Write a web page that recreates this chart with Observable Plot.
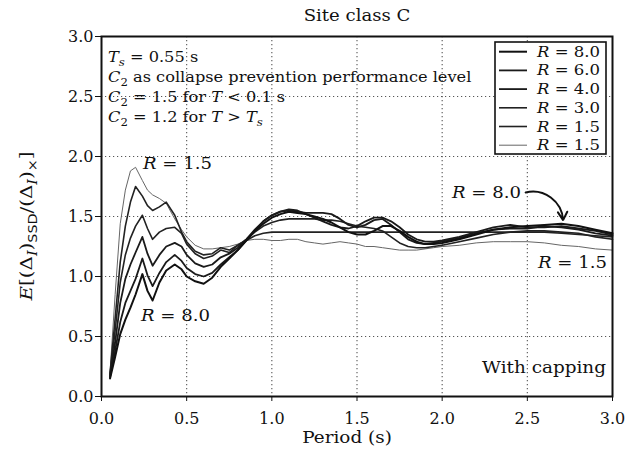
<!DOCTYPE html>
<html><head><meta charset="utf-8">
<script src="https://cdn.jsdelivr.net/npm/d3@7"></script>
<script src="https://cdn.jsdelivr.net/npm/@observablehq/plot@0.6"></script>
<style>body{margin:0;background:#fff} svg{display:block}</style>
</head><body><div id="chart"></div>
<script>
// Period grid (s)
const periods = [0.05,0.08,0.11,0.14,0.17,0.20,0.24,0.27,0.30,0.34,0.38,0.43,0.47,0.50,0.55,0.60,0.65,0.70,0.75,0.80,0.85,0.90,0.95,1.00,1.05,1.10,1.15,1.20,1.25,1.30,1.35,1.40,1.45,1.50,1.55,1.60,1.65,1.70,1.75,1.80,1.85,1.90,1.95,2.00,2.10,2.20,2.30,2.40,2.50,2.60,2.70,2.80,2.90,3.00];

const r8 = [0.15,0.33,0.52,0.64,0.74,0.85,1.02,0.88,0.80,0.95,1.05,1.10,1.06,1.00,0.96,0.94,0.99,1.08,1.15,1.22,1.30,1.38,1.44,1.49,1.52,1.54,1.53,1.52,1.50,1.48,1.45,1.41,1.37,1.35,1.35,1.38,1.42,1.42,1.38,1.33,1.29,1.27,1.27,1.28,1.31,1.35,1.39,1.41,1.42,1.43,1.44,1.42,1.39,1.36];
const r6 = [0.16,0.38,0.62,0.78,0.88,0.98,1.15,1.01,0.92,1.03,1.12,1.18,1.13,1.07,1.02,1.00,1.03,1.10,1.16,1.22,1.30,1.38,1.46,1.51,1.54,1.56,1.55,1.52,1.49,1.46,1.43,1.41,1.40,1.42,1.46,1.49,1.49,1.46,1.41,1.35,1.31,1.29,1.29,1.30,1.33,1.37,1.41,1.43,1.41,1.41,1.42,1.40,1.38,1.35];
const r4 = [0.17,0.45,0.78,0.98,1.10,1.20,1.33,1.19,1.09,1.18,1.25,1.28,1.25,1.18,1.11,1.08,1.10,1.16,1.19,1.24,1.31,1.39,1.46,1.51,1.54,1.55,1.54,1.53,1.53,1.53,1.52,1.48,1.43,1.41,1.43,1.47,1.48,1.43,1.37,1.31,1.28,1.27,1.28,1.29,1.32,1.36,1.39,1.40,1.40,1.42,1.41,1.39,1.36,1.34];
const r3 = [0.18,0.55,0.95,1.18,1.32,1.42,1.51,1.40,1.31,1.37,1.40,1.41,1.36,1.27,1.19,1.15,1.17,1.22,1.20,1.26,1.31,1.37,1.42,1.45,1.47,1.48,1.48,1.48,1.48,1.47,1.47,1.46,1.44,1.42,1.41,1.40,1.38,1.33,1.28,1.25,1.24,1.24,1.25,1.26,1.29,1.32,1.35,1.37,1.38,1.38,1.37,1.36,1.33,1.31];
const r15a = [0.19,0.65,1.12,1.42,1.62,1.75,1.67,1.59,1.55,1.58,1.62,1.51,1.37,1.29,1.21,1.18,1.19,1.24,1.22,1.26,1.30,1.34,1.36,1.37,1.37,1.37,1.37,1.37,1.37,1.37,1.37,1.37,1.37,1.37,1.37,1.37,1.37,1.37,1.37,1.37,1.37,1.37,1.37,1.37,1.37,1.37,1.37,1.37,1.37,1.37,1.36,1.35,1.34,1.33];
const r15b = [0.20,0.85,1.44,1.72,1.88,1.91,1.80,1.72,1.68,1.65,1.61,1.48,1.39,1.33,1.26,1.23,1.23,1.24,1.25,1.27,1.30,1.31,1.31,1.30,1.30,1.31,1.31,1.29,1.28,1.27,1.28,1.29,1.28,1.27,1.25,1.25,1.24,1.23,1.22,1.22,1.22,1.23,1.24,1.25,1.26,1.28,1.29,1.29,1.29,1.28,1.26,1.25,1.23,1.22];

const seriesKeys = ["r8","r6","r4","r3","r15a","r15b"];
const seriesLabels = ["8.0","6.0","4.0","3.0","1.5","1.5"];
const seriesValues = [r8, r6, r4, r3, r15a, r15b];
const xTicks = [0,0.5,1.0,1.5,2.0,2.5,3.0];
const yTicks = [0,0.5,1.0,1.5,2.0,2.5,3.0];

const strokeOf = {r8:"#111", r6:"#1a1a1a", r4:"#1a1a1a", r3:"#222", r15a:"#222", r15b:"#666"};
const widthOf = {r8:2.0, r6:1.8, r4:1.8, r3:1.6, r15a:1.6, r15b:1.0};

const rows = [];
seriesKeys.forEach((k, j) => periods.forEach((t, i) => rows.push({series: k, T: t, v: seriesValues[j][i]})));

const W = 627, H = 459, mL = 101, mR = 15, mT = 36, mB = 63;
const FONT = "DejaVu Serif";

const chart = Plot.plot({
  width: W, height: H,
  marginLeft: mL, marginRight: mR, marginTop: mT, marginBottom: mB,
  style: {fontFamily: FONT, fontSize: "16px", color: "#111", background: "#fff"},
  x: {domain: [0, 3]},
  y: {domain: [0, 3]},
  marks: [
    Plot.gridX(xTicks.slice(1, -1), {stroke: "#444", strokeOpacity: 0.9, strokeDasharray: "1.2,2.8", strokeWidth: 1.1}),
    Plot.gridY(yTicks.slice(1, -1), {stroke: "#444", strokeOpacity: 0.9, strokeDasharray: "1.2,2.8", strokeWidth: 1.1}),
    ...seriesKeys.slice().reverse().map(k => Plot.line(rows.filter(d => d.series === k), {
      x: "T", y: "v", stroke: strokeOf[k], strokeWidth: widthOf[k], curve: "linear", strokeLinejoin: "round"
    })),
    Plot.arrow([{x1: 2.49, y1: 1.70, x2: 2.71, y2: 1.47}], {
      x1: "x1", y1: "y1", x2: "x2", y2: "y2", bend: 50, stroke: "#111", strokeWidth: 2, headLength: 7
    }),
    Plot.frame({stroke: "#111", strokeWidth: 2}),
    Plot.axisX(xTicks, {tickFormat: d3.format(".1f"), tickSize: 5, tickPadding: 11, label: null, fontSize: 16}),
    Plot.axisY(yTicks, {tickFormat: d3.format(".1f"), tickSize: 6, tickPadding: 2, label: null, fontSize: 16})
  ]
});
document.getElementById("chart").appendChild(chart);

const svg = d3.select(chart);
const g = svg.append("g").attr("font-family", FONT).attr("fill", "#111").attr("font-weight", 400);

// Text drawn with a slight horizontal stretch, as in the scanned reference
function rich(parent, x, y, parts, size, anchor, sx, rot) {
  const holder = parent.append("g")
    .attr("transform", `translate(${x},${y})${rot ? ` rotate(${rot})` : ""} scale(${sx || 1},1)`);
  const t = holder.append("text").attr("x", 0).attr("y", 0).attr("font-size", size)
    .attr("font-weight", 400).attr("text-anchor", anchor || "start");
  let shift = 0;
  parts.forEach(p => {
    const s = t.append("tspan").text(p.t);
    const target = p.sub ? size * 0.28 : 0;
    if (target !== shift) { s.attr("dy", target - shift); shift = target; }
    if (p.i) s.attr("font-style", "italic");
    if (p.sub) s.attr("font-size", size * 0.72);
    if (p.sans) s.attr("font-family", "DejaVu Sans");
  });
  return t;
}

// Title and axis titles
rich(g, 357, 21, [{t: "Site class C"}], 16, "middle", 1.13);
rich(g, 347, 443, [{t: "Period (s)"}], 16, "middle", 1.15);
rich(g, 32, 226, [
  {t: "E", i: true}, {t: "[(Δ"}, {t: "I", i: true, sub: true}, {t: ")"}, {t: "SSD", sub: true, sans: true},
  {t: "/(Δ"}, {t: "I", i: true, sub: true}, {t: ")"}, {t: "×", sub: true}, {t: "]"}
], 17, "middle", 1.17, -90);

// Notes at top-left
rich(g, 108, 62, [{t: "T", i: true}, {t: "s", i: true, sub: true}, {t: " = 0.55 s"}], 15, "start", 1.08);
rich(g, 108, 82, [{t: "C", i: true}, {t: "2", sub: true}, {t: " as collapse prevention performance level"}], 15, "start", 1.08);
rich(g, 108, 102, [{t: "C", i: true}, {t: "2", sub: true}, {t: " = 1.5 for "}, {t: "T", i: true}, {t: " < 0.1 s"}], 15, "start", 1.08);
rich(g, 108, 122, [{t: "C", i: true}, {t: "2", sub: true}, {t: " = 1.2 for "}, {t: "T", i: true}, {t: " > "}, {t: "T", i: true}, {t: "s", i: true, sub: true}], 15, "start", 1.08);

// Curve labels
rich(g, 143, 169, [{t: "R", i: true}, {t: " = 1.5"}], 16, "start", 1.13);
rich(g, 141, 321, [{t: "R", i: true}, {t: " = 8.0"}], 16, "start", 1.13);
rich(g, 452, 198, [{t: "R", i: true}, {t: " = 8.0"}], 16, "start", 1.13);
rich(g, 607, 268, [{t: "R", i: true}, {t: " = 1.5"}], 16, "end", 1.13);
rich(g, 606, 373, [{t: "With capping"}], 16, "end", 1.15);

// Legend
const lg = g.append("g");
lg.append("rect").attr("x", 495).attr("y", 42).attr("width", 111).attr("height", 112)
  .attr("fill", "#fff").attr("stroke", "#111").attr("stroke-width", 1.6);
seriesKeys.forEach((k, i) => {
  const yy = 51.7 + i * 18.7;
  lg.append("line").attr("x1", 499).attr("x2", 527).attr("y1", yy).attr("y2", yy)
    .attr("stroke", strokeOf[k]).attr("stroke-width", widthOf[k]);
  rich(lg, 537, yy + 5, [{t: "R", i: true}, {t: " = " + seriesLabels[i]}], 15, "start", 1.1);
});
</script>
</body></html>
